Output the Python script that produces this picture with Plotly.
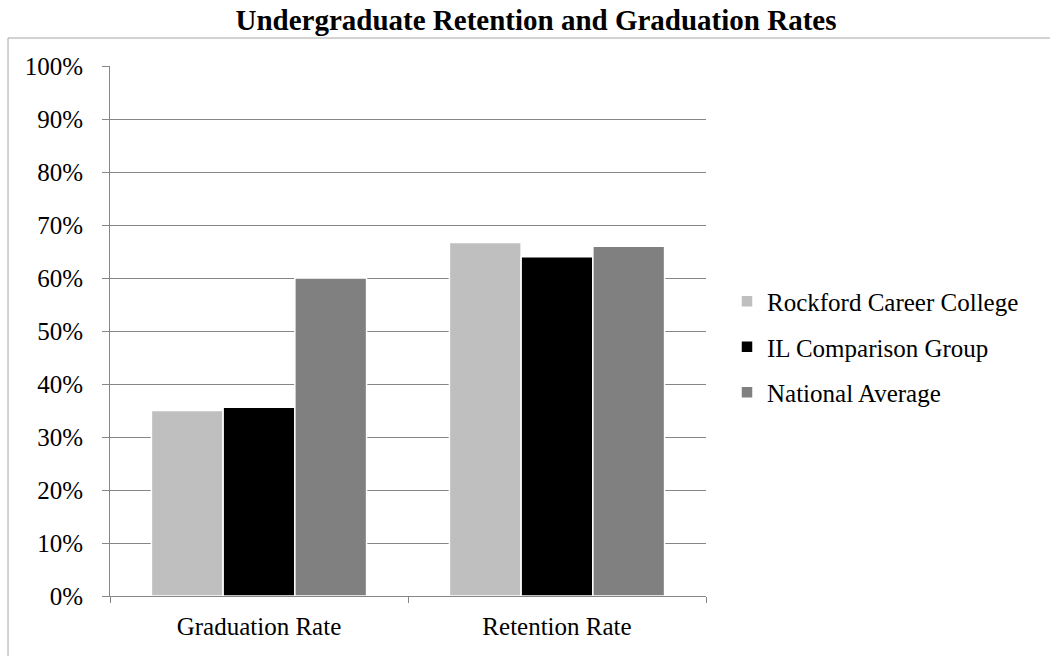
import plotly.graph_objects as go

categories = ["Graduation Rate", "Retention Rate"]
series_names = ["Rockford Career College", "IL Comparison Group", "National Average"]
rockford = [0.35, 0.667]
il_group = [0.356, 0.64]
national = [0.60, 0.66]
colors = ["#bfbfbf", "#000000", "#808080"]
y_ticks = [i / 10 for i in range(11)]
y_labels = [f"{i * 10}%" for i in range(11)]

FONT = "Liberation Serif"
W, H = 1050, 656

# plot area in page pixels
L_PAGE, R_PAGE, T_PAGE, B_PAGE = 110, 706, 66, 596
L, T = L_PAGE, T_PAGE
R = W - R_PAGE
B = H - B_PAGE
pw, ph = W - L - R, H - T - B

def px(x):
    return (x - L) / pw

def py(y):
    return (H - B - y) / ph

fig = go.Figure()
for i, (name, vals) in enumerate(zip(series_names, [rockford, il_group, national])):
    fig.add_trace(go.Bar(
        x=categories, y=vals, name=name, legendgroup=f"g{i}",
        marker=dict(color=colors[i], line=dict(color="white", width=1.5)),
    ))

fig.update_layout(
    width=W, height=H,
    margin=dict(l=L, r=R, t=T, b=B),
    paper_bgcolor="white", plot_bgcolor="white",
    barmode="group", bargap=0.278, bargroupgap=0.0,
    font=dict(family=FONT, color="black", size=25),
    title=dict(text="<b>Undergraduate Retention and Graduation Rates</b>",
               x=536 / W, xanchor="center", y=1 - 20 / H, yanchor="middle",
               font=dict(family=FONT, size=29, color="black")),
    xaxis=dict(showline=True, linecolor="#868686", linewidth=1,
               ticks="outside", tickson="boundaries", ticklen=6, tickcolor="#868686",
               tickfont=dict(size=25), showgrid=False, ticklabelstandoff=8,
               automargin=False),
    yaxis=dict(range=[0, 1], tickvals=y_ticks, ticktext=y_labels,
               showline=True, linecolor="#868686", linewidth=1,
               ticks="outside", ticklen=7, tickcolor="#868686",
               showgrid=True, gridcolor="#868686", gridwidth=1,
               tickfont=dict(size=25), zeroline=False, ticklabelstandoff=14,
               automargin=False),
    legend=dict(x=px(727), xanchor="left", y=py(347), yanchor="middle",
                font=dict(size=25), tracegroupgap=10, traceorder="grouped",
                itemwidth=30, bgcolor="rgba(0,0,0,0)"),
    showlegend=True,
    shapes=[dict(type="rect", xref="paper", yref="paper",
                 x0=px(8), x1=px(1070), y0=py(680), y1=py(38),
                 line=dict(color="#a6a6a6", width=1), fillcolor="rgba(0,0,0,0)", layer="below")],
)

fig.write_html("out.html", config={"displayModeBar": False},
               post_script="document.body.style.margin='0';")
